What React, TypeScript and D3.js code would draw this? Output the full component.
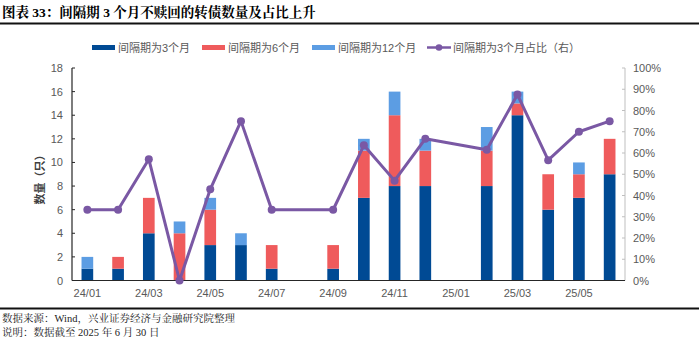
import React from "react";
import * as d3 from "d3";

const months = ["24/01","24/02","24/03","24/04","24/05","24/06","24/07","24/08","24/09","24/10","24/11","24/12","25/01","25/02","25/03","25/04","25/05","25/06"];
const tickLabels = ["24/01","24/03","24/05","24/07","24/09","24/11","25/01","25/03","25/05"];
const m3 = [1,1,4,0,3,3,1,0,1,7,8,8,0,8,14,6,7,9];
const m6 = [0,1,3,4,3,0,2,0,2,4,6,3,0,3,1,3,2,3];
const m12 = [1,0,0,1,1,1,0,0,0,1,2,1,0,2,1,0,1,0];
const ratio: (number|null)[] = [33.3,33.3,57.1,0,42.9,75,33.3,null,33.3,63.6,47,66.7,null,61.5,87.5,56.6,70,75];
const leftTicks = [0,2,4,6,8,10,12,14,16,18];
const rightTicks = [0,10,20,30,40,50,60,70,80,90,100];

const C3 = "#004A94";
const C6 = "#EF5B5C";
const C12 = "#5C9DE3";
const CL = "#7A58A4";
const sans = "'Liberation Sans', Arial, 'Noto Sans CJK SC', sans-serif";
const cjk = "'Liberation Sans', 'Noto Sans CJK SC', sans-serif";
const serif = "'Liberation Serif', 'Noto Serif CJK SC', 'Noto Sans CJK SC', serif";

export default function App() {
  const W = 699, H = 340;
  const left = 72, right = 625, top = 68, bottom = 280.5;
  const x = d3.scaleBand<string>().domain(months).range([left, right]).paddingInner(0.62).paddingOuter(0.31);
  const y = d3.scaleLinear().domain([0, 18]).range([bottom, top]);
  const yr = d3.scaleLinear().domain([0, 100]).range([bottom, top]);
  const bw = x.bandwidth();
  const cx = (m: string) => (x(m) as number) + bw / 2;

  const pts = months.map((m, i) => ({ m, v: ratio[i] })).filter(d => d.v !== null) as { m: string; v: number }[];
  const line = d3.line<{ m: string; v: number }>().x(d => cx(d.m)).y(d => yr(d.v));

  const legendItems = [
    { label: "间隔期为3个月", color: C3, x0: 92, type: "bar" },
    { label: "间隔期为6个月", color: C6, x0: 202, type: "bar" },
    { label: "间隔期为12个月", color: C12, x0: 312, type: "bar" },
    { label: "间隔期为3个月占比（右）", color: CL, x0: 427, type: "line" },
  ];

  return (
    <svg width={W} height={H} style={{ position: "absolute", left: 0, top: 0, background: "#fff" }}>
      <rect x={0} y={0} width={W} height={H} fill="#fff" />
      <text x={2} y={17} fontFamily={serif} fontWeight="bold" fontSize={13.5} fill="#000">图表 33：间隔期 3 个月不赎回的转债数量及占比上升</text>
      <rect x={0} y={22.5} width={W} height={2} fill="#111" />

      {legendItems.map((l, i) => (
        <g key={i}>
          {l.type === "bar" ? (
            <rect x={l.x0} y={45} width={23} height={5} fill={l.color} />
          ) : (
            <g>
              <line x1={l.x0} x2={l.x0 + 24} y1={47.5} y2={47.5} stroke={l.color} strokeWidth={2.5} />
              <circle cx={l.x0 + 12} cy={47.5} r={3.3} fill={l.color} />
            </g>
          )}
          <text x={l.x0 + 26} y={51.5} fontFamily={cjk} fontSize={11} fill="#595959">{l.label}</text>
        </g>
      ))}

      {/* bars */}
      {months.map((m, i) => {
        const a = m3[i], b = m6[i], c = m12[i];
        const xx = x(m) as number;
        return (
          <g key={m}>
            {a > 0 && <rect x={xx} y={y(a)} width={bw} height={y(0) - y(a)} fill={C3} />}
            {b > 0 && <rect x={xx} y={y(a + b)} width={bw} height={y(a) - y(a + b)} fill={C6} />}
            {c > 0 && <rect x={xx} y={y(a + b + c)} width={bw} height={y(a + b) - y(a + b + c)} fill={C12} />}
          </g>
        );
      })}

      {/* left axis */}
      <line x1={left} x2={left} y1={top} y2={bottom} stroke="#262626" strokeWidth={1.2} />
      {leftTicks.map(t => (
        <g key={t}>
          <line x1={left} x2={left + 3} y1={y(t)} y2={y(t)} stroke="#262626" />
          <text x={63} y={y(t) + 4} textAnchor="end" fontFamily={sans} fontSize={11} fill="#595959">{t}</text>
        </g>
      ))}
      <text transform={`translate(44,177) rotate(-90)`} textAnchor="middle" fontFamily={cjk} fontWeight="bold" fontSize={11} fill="#404040">数量（只）</text>

      {/* right axis */}
      <line x1={right} x2={right} y1={top} y2={bottom} stroke="#bfbfbf" strokeWidth={1} />
      {rightTicks.map(t => (
        <g key={t}>
          <line x1={right - 3} x2={right} y1={yr(t)} y2={yr(t)} stroke="#bfbfbf" />
          <text x={633} y={yr(t) + 4} fontFamily={sans} fontSize={11} fill="#595959">{t}%</text>
        </g>
      ))}

      {/* bottom axis */}
      <line x1={left} x2={right} y1={bottom} y2={bottom} stroke="#262626" strokeWidth={1.2} />
      {tickLabels.map(t => (
        <text key={t} x={cx(t)} y={297} textAnchor="middle" fontFamily={sans} fontSize={11} fill="#595959">{t}</text>
      ))}

      {/* ratio line */}
      <path d={line(pts) || ""} fill="none" stroke={CL} strokeWidth={3} strokeLinejoin="round" />
      {pts.map(p => (
        <circle key={p.m} cx={cx(p.m)} cy={yr(p.v)} r={4} fill={CL} />
      ))}

      <rect x={0} y={307.5} width={W} height={2} fill="#111" />
      <text x={2} y={322} fontFamily={serif} fontSize={10.5} fill="#222">数据来源：Wind，兴业证券经济与金融研究院整理</text>
      <text x={2} y={336} fontFamily={serif} fontSize={10.5} fill="#222">说明：数据截至 2025 年 6 月 30 日</text>
    </svg>
  );
}
